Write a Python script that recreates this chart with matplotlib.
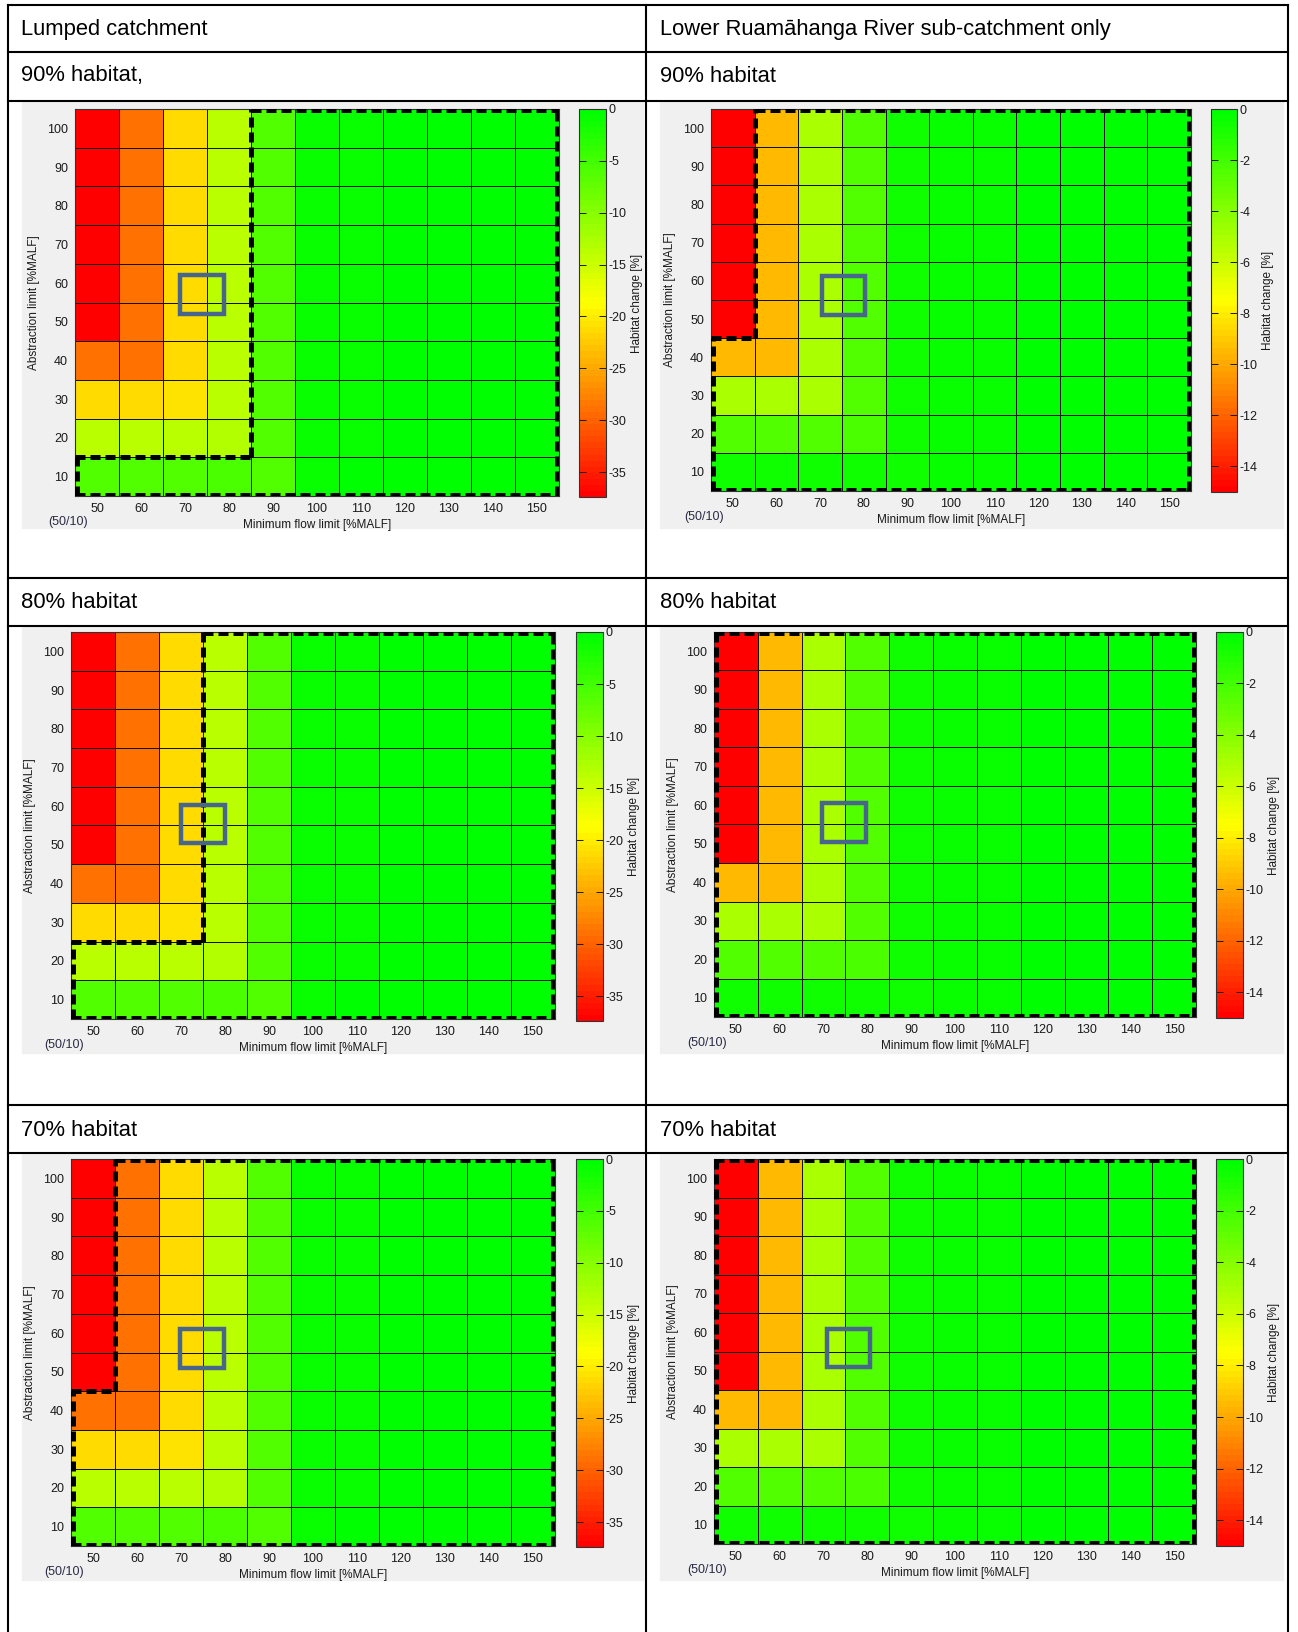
import matplotlib
matplotlib.use('Agg')
import matplotlib.pyplot as plt
import numpy as np
from matplotlib.colors import LinearSegmentedColormap
from matplotlib.patches import Rectangle
from matplotlib.lines import Line2D
from matplotlib import font_manager

plt.rcParams['font.family'] = ['Liberation Sans', 'DejaVu Sans']
plt.rcParams['axes.unicode_minus'] = False

# grid of scenarios
min_flow = [50, 60, 70, 80, 90, 100, 110, 120, 130, 140, 150]
abstraction = [10, 20, 30, 40, 50, 60, 70, 80, 90, 100]

# habitat change [%]; rows = abstraction 10..100, cols = min flow 50..150
lumped_change = [
    [-6.0, -6.0, -5.9, -5.8, -6.0, -0.7, -0.5, -0.4, -0.4, -0.3, -0.3],
    [-13.7, -13.6, -13.5, -13.4, -6.2, -0.8, -0.6, -0.5, -0.4, -0.4, -0.3],
    [-21.1, -21.1, -21.0, -13.6, -6.2, -0.8, -0.6, -0.5, -0.4, -0.4, -0.3],
    [-29.2, -29.2, -21.1, -13.6, -6.2, -0.8, -0.6, -0.5, -0.4, -0.4, -0.3],
    [-37.4, -29.2, -21.1, -13.6, -6.2, -0.8, -0.6, -0.5, -0.4, -0.4, -0.3],
    [-37.4, -29.2, -21.1, -13.6, -6.2, -0.8, -0.6, -0.5, -0.4, -0.4, -0.3],
    [-37.4, -29.2, -21.1, -13.6, -6.2, -0.8, -0.6, -0.5, -0.4, -0.4, -0.3],
    [-37.4, -29.2, -21.1, -13.6, -6.2, -0.8, -0.6, -0.5, -0.4, -0.4, -0.3],
    [-37.4, -29.2, -21.1, -13.6, -6.2, -0.8, -0.6, -0.5, -0.4, -0.4, -0.3],
    [-37.4, -29.2, -21.1, -13.6, -6.2, -0.8, -0.6, -0.5, -0.4, -0.4, -0.3],
]
lower_change = [
    [-0.7, -0.7, -0.7, -0.7, -0.6, -0.3, -0.3, -0.2, -0.2, -0.2, -0.2],
    [-2.4, -2.4, -2.4, -2.3, -0.6, -0.3, -0.3, -0.2, -0.2, -0.2, -0.2],
    [-5.1, -5.1, -5.1, -2.4, -0.6, -0.3, -0.3, -0.2, -0.2, -0.2, -0.2],
    [-9.4, -9.4, -5.1, -2.4, -0.6, -0.3, -0.3, -0.2, -0.2, -0.2, -0.2],
    [-15.0, -9.4, -5.1, -2.4, -0.6, -0.3, -0.3, -0.2, -0.2, -0.2, -0.2],
    [-15.0, -9.4, -5.1, -2.4, -0.6, -0.3, -0.3, -0.2, -0.2, -0.2, -0.2],
    [-15.0, -9.4, -5.1, -2.4, -0.6, -0.3, -0.3, -0.2, -0.2, -0.2, -0.2],
    [-15.0, -9.4, -5.1, -2.4, -0.6, -0.3, -0.3, -0.2, -0.2, -0.2, -0.2],
    [-15.0, -9.4, -5.1, -2.4, -0.6, -0.3, -0.3, -0.2, -0.2, -0.2, -0.2],
    [-15.0, -9.4, -5.1, -2.4, -0.6, -0.3, -0.3, -0.2, -0.2, -0.2, -0.2],
]
lumped_min = -37.4
lower_min = -15.0
lumped_ticks = [-35, -30, -25, -20, -15, -10, -5, 0]
lower_ticks = [-14, -12, -10, -8, -6, -4, -2, 0]

column_titles = ['Lumped catchment', 'Lower Ruamāhanga River sub-catchment only']
habitat_levels = [90, 80, 70]
left_row_titles = ['90% habitat,', '80% habitat', '70% habitat']
right_row_titles = ['90% habitat', '80% habitat', '70% habitat']
# hand-drawn marker round the current (75/55) scenario, one per panel
marker_centres = [(73.9, 57.1), (75.4, 56.2), (74.9, 55.4), (74.7, 55.5), (74.8, 56.1), (75.7, 55.9)]

W, H = 1298, 1632
fig = plt.figure(figsize=(W / 100, H / 100), dpi=100)

names = {f.name for f in font_manager.fontManager.ttflist}
if 'Liberation Sans Narrow' in names:
    head_font, head_size = ['Liberation Sans Narrow', 'DejaVu Sans'], 18.5
else:
    head_font, head_size = ['Liberation Sans', 'DejaVu Sans'], 15.8

cmap = LinearSegmentedColormap.from_list('ryg', ['#ff0000', '#ffff00', '#00ff00'], N=64)


def box(x0, y0, x1, y1):
    return [x0 / W, 1 - y1 / H, (x1 - x0) / W, (y1 - y0) / H]


def hline(y, x0=8, x1=1288):
    fig.add_artist(Line2D([x0 / W, x1 / W], [1 - y / H, 1 - y / H], color='k', lw=1.5,
                          transform=fig.transFigure))


def vline(x, y0=5, y1=1632):
    fig.add_artist(Line2D([x / W, x / W], [1 - y0 / H, 1 - y1 / H], color='k', lw=1.5,
                          transform=fig.transFigure))


# table frame
for y in [5, 52, 101, 578, 626, 1105, 1153]:
    hline(y)
for x in [8, 646, 1288]:
    vline(x)

fig.text(21 / W, 1 - 29 / H, column_titles[0], va='center', fontsize=head_size, family=head_font)
fig.text(660 / W, 1 - 29 / H, column_titles[1], va='center', fontsize=head_size, family=head_font)
for ty, lt, rt in zip([76, 603, 1130], left_row_titles, right_row_titles):
    fig.text(21 / W, 1 - ty / H, lt, va='center', fontsize=head_size, family=head_font)
    fig.text(660 / W, 1 - ty / H, rt, va='center', fontsize=head_size, family=head_font)


def boundary(ax, values, threshold):
    # outline of the cells that keep at least the given habitat level
    mask = np.array(values) >= threshold
    ny, nx = mask.shape
    hsegs, vsegs = {}, {}
    for j in range(ny):
        for i in range(nx):
            if not mask[j, i]:
                continue
            x0, x1 = min_flow[i] - 5, min_flow[i] + 5
            y0, y1 = abstraction[j] - 5, abstraction[j] + 5
            if j == 0 or not mask[j - 1, i]:
                hsegs.setdefault(y0, []).append((x0, x1))
            if j == ny - 1 or not mask[j + 1, i]:
                hsegs.setdefault(y1, []).append((x0, x1))
            if i == 0 or not mask[j, i - 1]:
                vsegs.setdefault(x0, []).append((y0, y1))
            if i == nx - 1 or not mask[j, i + 1]:
                vsegs.setdefault(x1, []).append((y0, y1))

    def merged(parts):
        parts = sorted(parts)
        out = [list(parts[0])]
        for a, b in parts[1:]:
            if a <= out[-1][1]:
                out[-1][1] = max(out[-1][1], b)
            else:
                out.append([a, b])
        return out

    style = dict(color='k', lw=3.6, linestyle=(0, (2.0, 1.0)), dash_capstyle='butt', zorder=4)
    inset = 0.35
    for y, parts in hsegs.items():
        yy = y + inset if y == 5 else (y - inset if y == 105 else y)
        for a, b in merged(parts):
            ax.plot([a, b], [yy, yy], **style)
    for x, parts in vsegs.items():
        xx = x + inset if x == 45 else (x - inset if x == 155 else x)
        for a, b in merged(parts):
            ax.plot([xx, xx], [a, b], **style)


panels = [
    (lumped_change, lumped_min, lumped_ticks, 90, (22, 102, 643, 528), (75, 109, 559, 496), (579, 109, 606, 497)),
    (lower_change, lower_min, lower_ticks, 90, (660, 102, 1283, 528), (711, 109, 1191, 491), (1211, 109, 1237, 492)),
    (lumped_change, lumped_min, lumped_ticks, 80, (22, 627, 643, 1053), (71, 632, 555, 1019), (576, 632, 603, 1021)),
    (lower_change, lower_min, lower_ticks, 80, (660, 627, 1283, 1053), (714, 632, 1196, 1017), (1216, 632, 1243, 1018)),
    (lumped_change, lumped_min, lumped_ticks, 70, (22, 1154, 643, 1580), (71, 1159, 555, 1546), (576, 1159, 603, 1547)),
    (lower_change, lower_min, lower_ticks, 70, (660, 1154, 1283, 1580), (714, 1159, 1196, 1544), (1216, 1159, 1243, 1546)),
]

xedges = [v - 5 for v in min_flow] + [min_flow[-1] + 5]
yedges = [v - 5 for v in abstraction] + [abstraction[-1] + 5]

for (values, vmin, ticks, level, gray, axbox, cbbox), (mx, my) in zip(panels, marker_centres):
    gx0, gy0, gx1, gy1 = gray
    fig.add_artist(Rectangle((gx0 / W, 1 - gy1 / H), (gx1 - gx0) / W, (gy1 - gy0) / H,
                             transform=fig.transFigure, color='#f0f0f0', zorder=-1))
    ax = fig.add_axes(box(*axbox))
    mesh = ax.pcolormesh(xedges, yedges, np.array(values), cmap=cmap, vmin=vmin, vmax=0,
                         edgecolors='#111111', linewidth=0.5)
    ax.set_xlim(45, 155)
    ax.set_ylim(5, 105)
    ax.set_xticks(min_flow)
    ax.set_yticks(abstraction)
    ax.tick_params(length=0, labelsize=9, pad=5, colors='#1a1a1a')
    for s in ax.spines.values():
        s.set_color('#333333')
        s.set_linewidth(0.8)
    ax.set_xlabel('Minimum flow limit [%MALF]', fontsize=8.5, labelpad=3, color='#1a1a1a')
    ax.set_ylabel('Abstraction limit [%MALF]', fontsize=8.5, labelpad=5, color='#1a1a1a')

    boundary(ax, values, -(100 - level))
    ax.add_patch(Rectangle((mx - 5, my - 5), 10, 10, fill=False,
                           edgecolor='#47658d', lw=3.2, zorder=5, joinstyle='miter'))

    fig.text((axbox[0] - 27) / W, 1 - (axbox[3] + 26) / H, '(50/10)', fontsize=9,
             color='#2b2b45', va='center')

    cax = fig.add_axes(box(*cbbox))
    cb = fig.colorbar(mesh, cax=cax)
    cb.set_ticks(ticks)
    cb.ax.tick_params(direction='in', left=True, right=True, length=5, width=0.7,
                      labelsize=9, pad=2, colors='#1a1a1a')
    cb.outline.set_edgecolor('#333333')
    cb.outline.set_linewidth(0.8)
    cb.set_label('Habitat change [%]', fontsize=8.5, labelpad=3, color='#1a1a1a')

fig.savefig('out.png', dpi=100, facecolor='white')
